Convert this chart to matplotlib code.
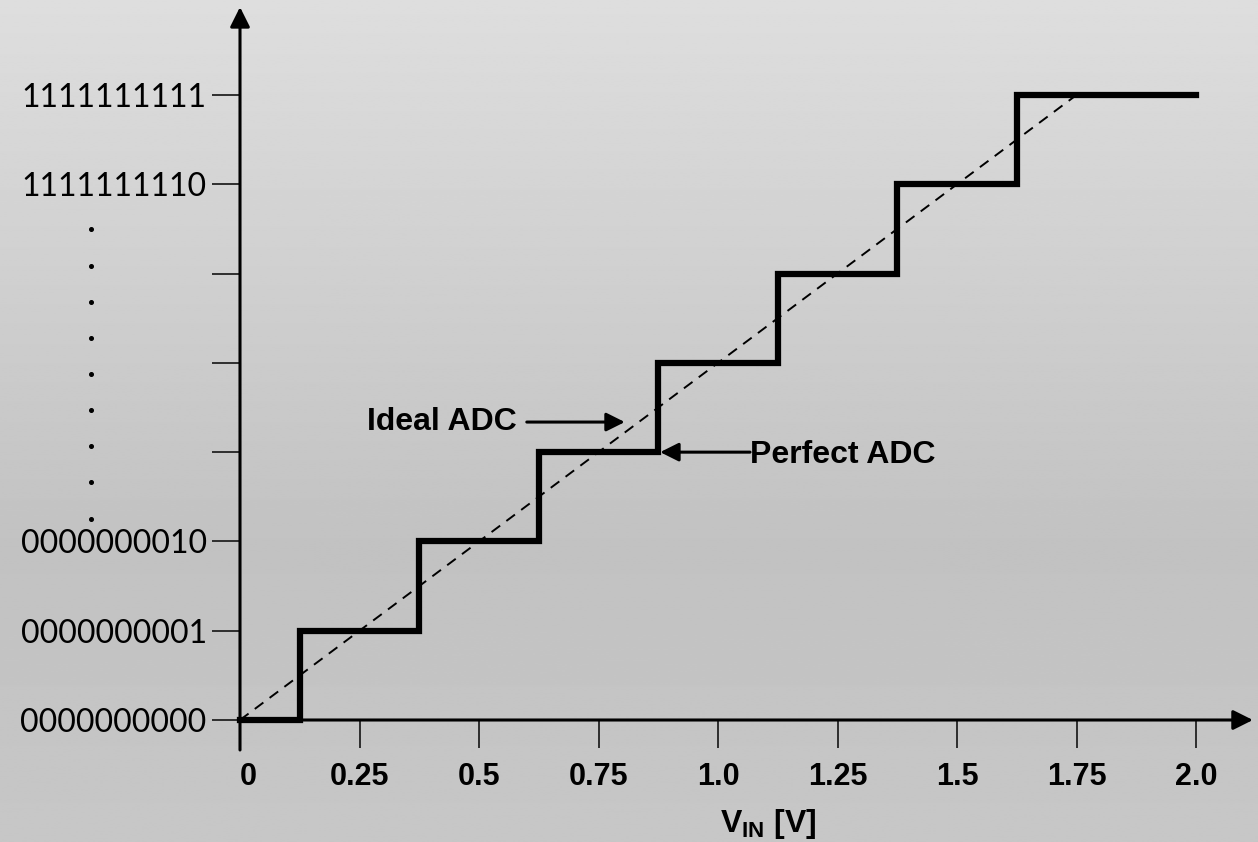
import numpy as np
import matplotlib
matplotlib.use('Agg')
import matplotlib.pyplot as plt

# transfer characteristic of a 3-bit-looking ADC staircase
stair_x = [0, 0.125, 0.375, 0.625, 0.875, 1.125, 1.375, 1.625, 2.0]
stair_y = [0, 1, 2, 3, 4, 5, 6, 7, 7]
ideal_x = [0, 1.75]
ideal_y = [0, 7]

x_ticks = [0, 0.25, 0.5, 0.75, 1.0, 1.25, 1.5, 1.75, 2.0]
x_labels = ['0', '0.25', '0.5', '0.75', '1.0', '1.25', '1.5', '1.75', '2.0']
y_ticks = [0, 1, 2, 3, 4, 5, 6, 7]
y_labels = ['0000000000', '0000000001', '0000000010', '', '', '',
            '1111111110', '1111111111']
dot_levels = [5.50, 5.09, 4.68, 4.28, 3.88, 3.47, 3.07, 2.67, 2.25]

W, H = 1258, 842
fig = plt.figure(figsize=(W / 100, H / 100), dpi=100)

# gray gradient background
bg = fig.add_axes([0, 0, 1, 1], zorder=-10)
g = np.interp(np.linspace(0, 1, 400), [0, 0.65, 1], [0.870, 0.760, 0.780])
bg.imshow(np.repeat(g[:, None], 2, axis=1), cmap='gray', vmin=0, vmax=1,
          aspect='auto', extent=[0, 1, 0, 1], origin='upper')
bg.set_axis_off()

ax = fig.add_axes([240 / W, 122 / H, 956 / W, 625 / H])
ax.set_facecolor('none')
ax.set_xlim(0, 2.0)
ax.set_ylim(0, 7)
for s in ax.spines.values():
    s.set_visible(False)

ax.set_xticks(x_ticks)
ax.set_xticklabels(x_labels, fontsize=22, fontweight='bold', family='Liberation Sans')
ax.get_xticklabels()[0].set_ha('left')
ax.set_yticks(y_ticks)
ax.set_yticklabels(y_labels, fontsize=23, family='Lato')
ax.tick_params(axis='x', direction='out', length=20, width=1.3, pad=10, color='#222222')
ax.tick_params(axis='y', direction='out', length=20, width=1.3, pad=4, color='#222222')

# axis lines with arrow heads
ax.annotate('', xy=(0, 7.985), xytext=(0, -0.336), annotation_clip=False,
            arrowprops=dict(arrowstyle='-|>', lw=2.2, color='black',
                            mutation_scale=30, shrinkA=0, shrinkB=0))
ax.annotate('', xy=(2.119, 0), xytext=(0, 0), annotation_clip=False,
            arrowprops=dict(arrowstyle='-|>', lw=2.2, color='black',
                            mutation_scale=30, shrinkA=0, shrinkB=0))

ax.plot(ideal_x, ideal_y, color='black', lw=1.4, dashes=(5.5, 4), zorder=3)
ax.step(stair_x, stair_y, where='post', color='black', lw=4.5, zorder=4,
        solid_joinstyle='miter', clip_on=False)

# vertical dots between codes
ax.plot([-0.312] * len(dot_levels), dot_levels, 'o', color='black', ms=2.6,
        clip_on=False)

ax.annotate('', xy=(0.805, 3.337), xytext=(0.600, 3.337), annotation_clip=False,
            arrowprops=dict(arrowstyle='-|>', lw=2.2, color='black',
                            mutation_scale=28, shrinkA=0, shrinkB=0))
ax.text(0.579, 3.337, 'Ideal ADC', ha='right', va='center', fontsize=23,
        fontweight='bold', family='Liberation Sans')

ax.annotate('', xy=(0.879, 3.0), xytext=(1.067, 3.0), annotation_clip=False,
            arrowprops=dict(arrowstyle='-|>', lw=2.2, color='black',
                            mutation_scale=28, shrinkA=0, shrinkB=0))
ax.text(1.067, 2.97, 'Perfect ADC', ha='left', va='center', fontsize=23,
        fontweight='bold', family='Liberation Sans')

plt.rcParams['mathtext.fontset'] = 'custom'
plt.rcParams['mathtext.rm'] = 'Liberation Sans:bold'
ax.text(1.105, -1.25, r'V$_{\mathrm{IN}}$ [V]', ha='center', va='baseline',
        fontsize=23, fontweight='bold', family='Liberation Sans', clip_on=False)

fig.savefig('out.png', dpi=100)
